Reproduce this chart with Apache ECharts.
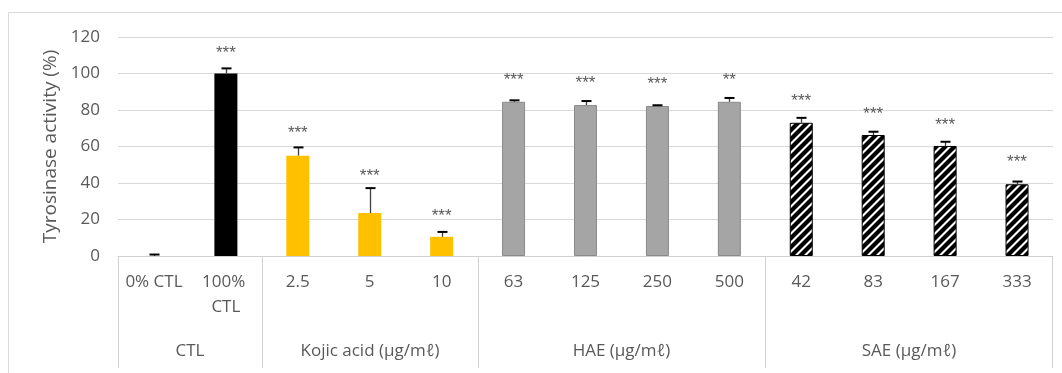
<!DOCTYPE html>
<html><head><meta charset="utf-8">
<script src="https://cdn.jsdelivr.net/npm/echarts@6/dist/echarts.min.js"></script>
<style>html,body{margin:0;padding:0;background:#fff}#c{width:1062px;height:373px}</style>
</head><body><div id="c"></div>
<script>
// ---- data ----
const categories = ['0% CTL', '100% CTL', '2.5', '5', '10', '63', '125', '250', '500', '42', '83', '167', '333'];
const values = [0, 100, 55, 23.5, 10.5, 84.5, 82.7, 82.2, 84.5, 73, 66.3, 60.3, 39.3];
const errors = [0.8, 2.8, 4.5, 13.7, 2.7, 0.8, 2.2, 0.4, 2.1, 2.7, 1.8, 2.3, 1.5];
const stars = ['', '***', '***', '***', '***', '***', '***', '***', '**', '***', '***', '***', '***'];
const starPos = [0, 113.4, 69.6, 46, 24, 98.6, 97, 96.4, 98.6, 87, 80, 73.9, 53.7];
const groupNames = ['CTL', 'Kojic acid (μg/mℓ)', 'HAE (μg/mℓ)', 'SAE (μg/mℓ)'];
const groupStart = [0, 2, 5, 9];
const groupEnd = [1, 4, 8, 12];
const yMin = 0, yMax = 120, yStep = 20;
const yTitle = 'Tyrosinase activity (%)';

// ---- styles ----
const FONT = '"Open Sans"';
const TXT = '#595959';
const pc = document.createElement('canvas');
const P = 9, B = 6;
pc.width = P; pc.height = P;
const cx = pc.getContext('2d');
cx.fillStyle = '#fff'; cx.fillRect(0, 0, P, P);
cx.fillStyle = '#000';
for (let k = 0; k <= 2; k++) {
  const o = k * P;
  cx.beginPath();
  cx.moveTo(o, 0); cx.lineTo(o + B, 0); cx.lineTo(o + B - P, P); cx.lineTo(o - P, P);
  cx.closePath(); cx.fill();
}
const groupStyles = [
  { color: '#000000' },
  { color: '#FFC000' },
  { color: '#A5A5A5', borderColor: '#8a8a8a', borderWidth: 1 },
  { color: { image: pc, repeat: 'repeat' }, borderColor: '#000', borderWidth: 1 }
];
function groupOf(i) { for (let g = 0; g < groupStart.length; g++) if (i >= groupStart[g] && i <= groupEnd[g]) return g; return 0; }

const chart = echarts.init(document.getElementById('c'), null, { renderer: 'canvas' });
chart.setOption({
  animation: false,
  grid: { left: 118, right: 9, top: 37, bottom: 117 },
  graphic: [{ type: 'rect', shape: { x: 8.5, y: 12.5, width: 1200, height: 600 }, style: { fill: 'none', stroke: '#d9d9d9', lineWidth: 1 }, silent: true, z: -10 }],
  xAxis: {
    type: 'category', data: categories,
    axisLine: { lineStyle: { color: '#d0d0d0', width: 1 } },
    axisTick: { show: false },
    axisLabel: { color: TXT, fontFamily: FONT, fontSize: 17, lineHeight: 25, margin: 14, width: 62, overflow: 'break', interval: 0 }
  },
  yAxis: {
    type: 'value', min: yMin, max: yMax, interval: yStep,
    name: yTitle, nameLocation: 'middle', nameGap: 57,
    nameTextStyle: { color: TXT, fontFamily: FONT, fontSize: 19 },
    axisLine: { show: false }, axisTick: { show: false },
    axisLabel: { color: TXT, fontFamily: FONT, fontSize: 17, margin: 18 },
    splitLine: { lineStyle: { color: '#d9d9d9', width: 1 } }
  },
  series: [
    {
      type: 'bar', barWidth: 23,
      data: values.map((v, i) => ({ value: v, itemStyle: groupStyles[groupOf(i)] })),
      z: 2
    },
    {
      type: 'custom', z: 3, silent: true,
      data: values.map((v, i) => [i, v, errors[i]]),
      renderItem(params, api) {
        const i = api.value(0), v = api.value(1), e = api.value(2);
        const b = api.coord([i, v]), t = api.coord([i, v + e]);
        const x = Math.round(b[0]) + 0.5;
        return {
          type: 'group', children: [
            { type: 'line', shape: { x1: x, y1: b[1], x2: x, y2: t[1] }, style: { stroke: '#404040', lineWidth: 1.3 } },
            { type: 'line', shape: { x1: x - 5, y1: t[1], x2: x + 5, y2: t[1] }, style: { stroke: '#000', lineWidth: 2 } }
          ]
        };
      }
    },
    {
      type: 'custom', z: 4, silent: true,
      data: starPos.map((s, i) => [i, s]),
      renderItem(params, api) {
        const i = api.value(0);
        const p = api.coord([i, api.value(1)]);
        return { type: 'text', style: { text: stars[i], x: p[0], y: p[1] + 4, align: 'center', verticalAlign: 'middle', font: '17px "Liberation Sans"', fill: TXT } };
      }
    },
    {
      type: 'custom', z: 1, silent: true,
      data: groupNames.map((n, g) => [groupStart[g], groupEnd[g], g]),
      renderItem(params, api) {
        const s = api.value(0), e = api.value(1), g = api.value(2);
        const bw = api.size([1, 0])[0];
        const x0 = Math.round(api.coord([s, 0])[0] - bw / 2) + 0.5;
        const x1 = Math.round(api.coord([e, 0])[0] + bw / 2) - 0.5;
        const y0 = api.coord([0, 0])[1];
        const ch = [
          { type: 'line', shape: { x1: x0, y1: y0, x2: x0, y2: y0 + 112 }, style: { stroke: '#d0d0d0', lineWidth: 1 } },
          { type: 'text', style: { text: groupNames[g], x: (x0 + x1) / 2, y: y0 + 95, align: 'center', verticalAlign: 'middle', font: '17px ' + FONT, fill: TXT } }
        ];
        if (g === groupNames.length - 1) ch.push({ type: 'line', shape: { x1: x1, y1: y0, x2: x1, y2: y0 + 112 }, style: { stroke: '#d0d0d0', lineWidth: 1 } });
        return { type: 'group', children: ch };
      }
    }
  ]
});
</script></body></html>
